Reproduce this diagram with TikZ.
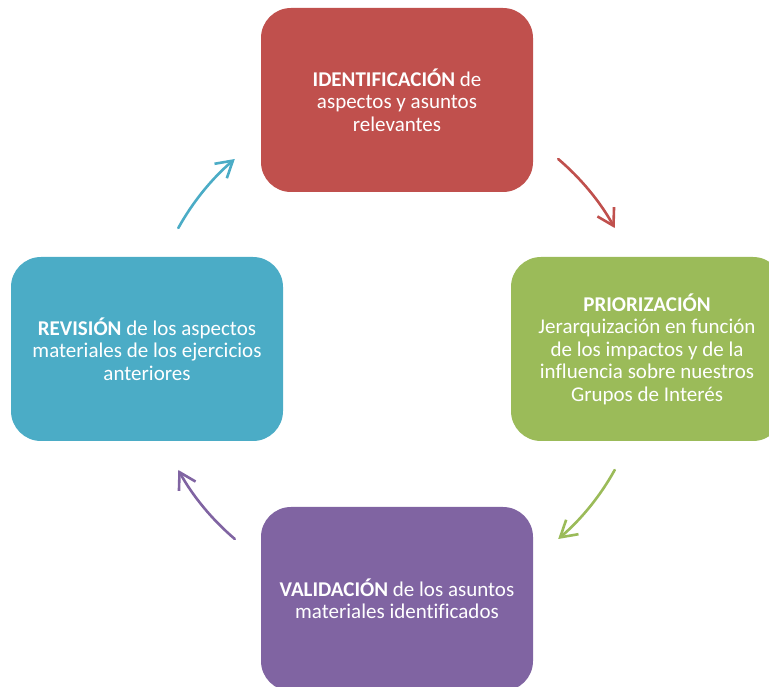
\documentclass[tikz,border=0pt]{standalone}
\usepackage{fontspec}
\setmainfont{Carlito}[Ligatures=NoCommon]
\usepackage{xcolor}
\usepackage{tikz}
\usetikzlibrary{shapes.geometric, arrows.meta}
\definecolor{rojo}{HTML}{C0504D}
\definecolor{verde}{HTML}{9BBB59}
\definecolor{azul}{HTML}{4BACC6}
\definecolor{morado}{HTML}{8064A2}
\tikzstyle{box} = [rectangle, rounded corners=30pt, minimum width=272pt, minimum height=184pt, inner sep=0pt, text=white, align=center, font=\fontsize{21pt}{22.5pt}\selectfont]
\tikzstyle{arrow} = [line width=2.6pt, line cap=round, line join=round, -{Straight Barb[length=16pt,width=19pt,line width=2.6pt]}]

\begin{document}
\begin{tikzpicture}[x=1pt,y=1pt]
                \useasboundingbox (0,0) rectangle (769,686);
                \clip (0,0) rectangle (769,686);
                \node[box, fill=rojo] (ident) at (397,586) {\textbf{IDENTIFICACIÓN} de\\aspectos y asuntos\\relevantes};
                \node[box, fill=verde] (prior) at (647,337) {\textbf{PRIORIZACIÓN}\\Jerarquización en función\\de los impactos y de la\\influencia sobre nuestros\\Grupos de Interés};
                \node[box, fill=morado] (valid) at (397,87) {\textbf{VALIDACIÓN} de los asuntos\\materiales identificados};
                \node[box, fill=azul] (revis) at (147,337) {\textbf{REVISIÓN} de los aspectos\\materiales de los ejercicios\\anteriores};
                \coordinate (centro) at (396.5,337);
                \draw[arrow, color=rojo] (centro) ++(49.6:249.5) arc[start angle=49.6, end angle=29, radius=249.5];
                \draw[arrow, color=verde] (centro) ++(-29:249.5) arc[start angle=-29, end angle=-49.6, radius=249.5];
                \draw[arrow, color=morado] (centro) ++(-130.4:249.5) arc[start angle=-130.4, end angle=-151, radius=249.5];
                \draw[arrow, color=azul] (centro) ++(151:249.5) arc[start angle=151, end angle=130.4, radius=249.5];
            \end{tikzpicture}
\end{document}
